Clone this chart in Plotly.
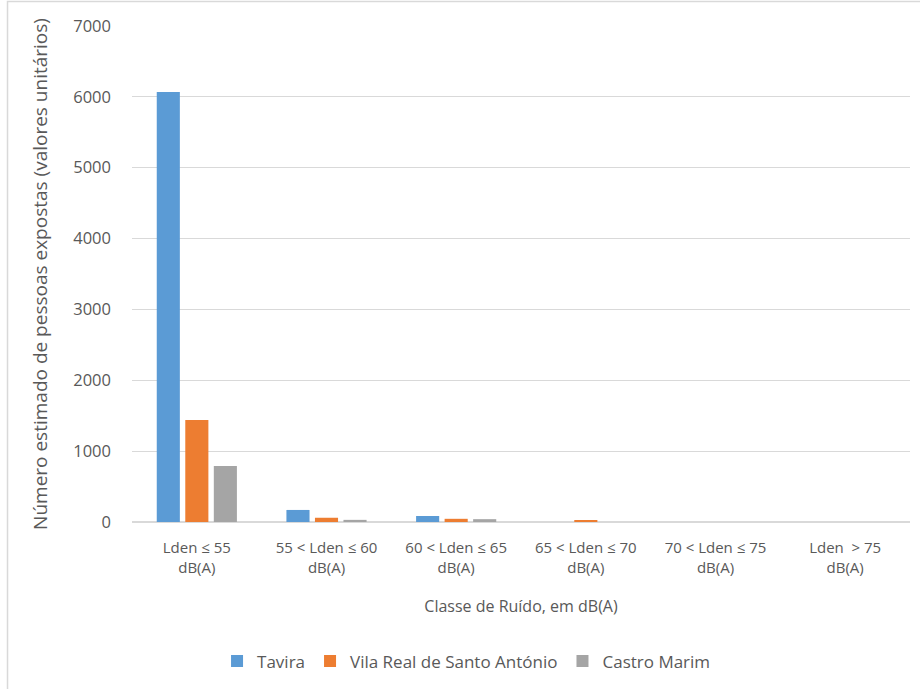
import plotly.graph_objects as go

categories = ["Lden ≤ 55<br>dB(A)", "55 < Lden ≤ 60<br>dB(A)", "60 < Lden ≤ 65<br>dB(A)",
              "65 < Lden ≤ 70<br>dB(A)", "70 < Lden ≤ 75<br>dB(A)", "Lden  > 75<br>dB(A)"]
tavira = [6070, 170, 85, 0, 0, 0]
vrsa = [1440, 60, 45, 15, 0, 0]
castro = [790, 30, 40, 0, 0, 0]

series = [("Tavira", tavira, "#5B9BD5"),
          ("Vila Real de Santo António", vrsa, "#ED7D31"),
          ("Castro Marim", castro, "#A5A5A5")]

fig = go.Figure()
for name, vals, col in series:
    fig.add_trace(go.Bar(x=categories, y=vals, name=name, marker_color=col,
                         marker_line_width=0))

font_fam = "Open Sans, Noto Sans, sans-serif"
fig.update_layout(
    width=920, height=689,
    margin=dict(l=132, r=10, t=26, b=167),
    paper_bgcolor="white", plot_bgcolor="white",
    barmode="group", bargap=0.34, bargroupgap=0.19,
    font=dict(family=font_fam, size=15, color="#595959"),
    showlegend=True,
    legend=dict(orientation="h", x=0.43, xanchor="center", y=-0.281, yanchor="middle",
                font=dict(size=17, color="#595959"), itemwidth=30, traceorder="normal"),
    xaxis=dict(title=dict(text="Classe de Ruído, em dB(A)", font=dict(size=16), standoff=25),
               tickfont=dict(size=15), showgrid=False, showline=True, linecolor="#d9d9d9",
               ticks="", ticklabelstandoff=12),
    yaxis=dict(title=dict(text="Número estimado de pessoas expostas (valores unitários)",
                          font=dict(size=19), standoff=20),
               range=[0, 7000], dtick=1000, tickfont=dict(size=16.5),
               showgrid=True, gridcolor="#d9d9d9", gridwidth=1,
               zeroline=True, zerolinecolor="#d9d9d9", ticks="", ticklabelstandoff=20),
    shapes=[dict(type="rect", xref="paper", yref="paper", x0=-0.16, x1=1.03,
                 y0=-0.5, y1=1.0494, line=dict(color="#d9d9d9", width=1.5),
                 fillcolor="rgba(0,0,0,0)", layer="below")],
)

fig.write_html("out.html", config={"displayModeBar": False},
               post_script="document.body.style.margin='0px';")
